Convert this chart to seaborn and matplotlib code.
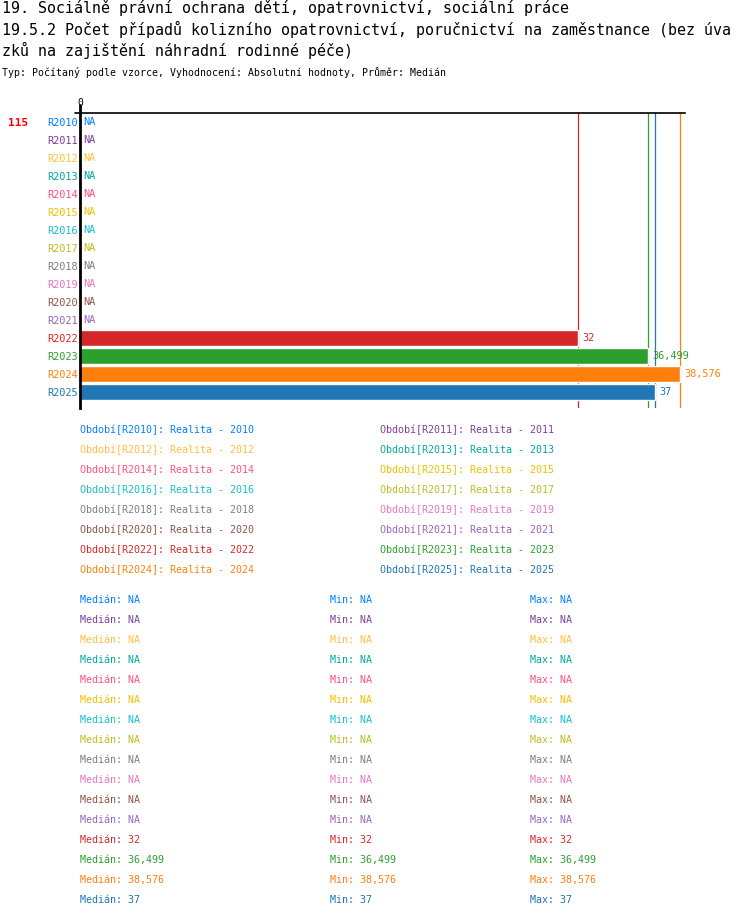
import numpy as np
import pandas as pd
import seaborn as sns
import matplotlib.pyplot as plt

W, H = 750, 918

periods = ['R2010', 'R2011', 'R2012', 'R2013', 'R2014', 'R2015', 'R2016', 'R2017',
           'R2018', 'R2019', 'R2020', 'R2021', 'R2022', 'R2023', 'R2024', 'R2025']
values = [np.nan, np.nan, np.nan, np.nan, np.nan, np.nan, np.nan, np.nan,
          np.nan, np.nan, np.nan, np.nan, 32, 36.499, 38.576, 37]
names = ['Realita - 2010', 'Realita - 2011', 'Realita - 2012', 'Realita - 2013',
         'Realita - 2014', 'Realita - 2015', 'Realita - 2016', 'Realita - 2017',
         'Realita - 2018', 'Realita - 2019', 'Realita - 2020', 'Realita - 2021',
         'Realita - 2022', 'Realita - 2023', 'Realita - 2024', 'Realita - 2025']
colors = ['#0080ff', '#7f3f98', '#ffbf3f', '#00a89d', '#ff4f86', '#f0c000',
          '#17becf', '#bcbd22', '#7f7f7f', '#e377c2', '#8c564b', '#9467bd',
          '#d62728', '#2ca02c', '#ff7f0e', '#1f77b4']

title1 = '19. Sociálně právní ochrana dětí, opatrovnictví, sociální práce'
title2 = '19.5.2 Počet případů kolizního opatrovnictví, poručnictví na zaměstnance (bez úva'
title3 = 'zků na zajištění náhradní rodinné péče)'
subtitle = 'Typ: Počítaný podle vzorce, Vyhodnocení: Absolutní hodnoty, Průměr: Medián'
row_count = '115'


def fmt(v):
    if pd.isna(v):
        return 'NA'
    s = f'{v:.3f}'.rstrip('0').rstrip('.')
    return s.replace('.', ',')


def px(x, y):
    return x / W, 1 - y / H


df = pd.DataFrame({'period': periods, 'value': values})
stats = df.groupby('period', sort=False)['value'].agg(['median', 'min', 'max'])

sns.set_style('white')
plt.rcParams['font.family'] = ['DejaVu Sans Mono']
plt.rcParams['text.color'] = 'black'

fig = plt.figure(figsize=(W / 100, H / 100), dpi=100)

# plot area in pixels: x 80..685, y 113..408
ax = fig.add_axes([80 / W, 1 - 408 / H, (685 - 80) / W, (408 - 113) / H])
sns.barplot(data=df, x='value', y='period', hue='period', palette=colors,
            orient='h', legend=False, width=0.9, saturation=1, ax=ax)
ax.set_xlim(0, 38.9)
ax.set_ylim(15 + 16 / 18, -0.5)
ax.set_xlabel('')
ax.set_ylabel('')
ax.set_xticks([])
ax.tick_params(axis='y', length=0, pad=1.5, labelsize=7.4)
for lab, c in zip(ax.get_yticklabels(), colors):
    lab.set_color(c)

for s in ['right', 'bottom']:
    ax.spines[s].set_visible(False)
ax.spines['top'].set_color('black')
ax.spines['top'].set_linewidth(1.2)
ax.spines['left'].set_color('black')
ax.spines['left'].set_linewidth(2)

# markers at bar ends
for i, v in enumerate(values):
    if not pd.isna(v):
        ax.axvline(v, color=colors[i], lw=0.9, zorder=0)
        ax.annotate(fmt(v), (v, i), xytext=(3, 0), textcoords='offset points',
                    color=colors[i], va='center', ha='left', fontsize=7.4)
    else:
        ax.annotate('NA', (0, i), xytext=(2, 0), textcoords='offset points',
                    color=colors[i], va='center', ha='left', fontsize=7.4)

# extend frame lines outside the axes
fig.add_artist(plt.Line2D([75 / W, 80 / W], [1 - 113 / H] * 2, color='black', lw=1.2))
fig.add_artist(plt.Line2D([80 / W] * 2, [1 - 105 / H, 1 - 113 / H], color='black', lw=2))
fig.text(*px(80, 103), '0', fontsize=7, ha='center', va='center')

fig.text(*px(8, 123), row_count, color='red', fontsize=8, fontweight='bold', va='center')

fig.text(*px(2, 8), title1, fontsize=10.8, va='center')
fig.text(*px(2, 29), title2, fontsize=10.8, va='center')
fig.text(*px(2, 50), title3, fontsize=10.8, va='center')
fig.text(*px(2, 73), subtitle, fontsize=7.1, va='center')

# legend block
for i, (p, n) in enumerate(zip(periods, names)):
    col = i % 2
    row = i // 2
    x = 80 if col == 0 else 380
    fig.text(*px(x, 430 + 20 * row), f'Období[{p}]: {n}', color=colors[i],
             fontsize=7.2, va='center')

# statistics block
for i, p in enumerate(periods):
    y = 600 + 20 * i
    fig.text(*px(80, y), f'Medián: {fmt(stats.loc[p, "median"])}', color=colors[i],
             fontsize=7.2, va='center')
    fig.text(*px(330, y), f'Min: {fmt(stats.loc[p, "min"])}', color=colors[i],
             fontsize=7.2, va='center')
    fig.text(*px(530, y), f'Max: {fmt(stats.loc[p, "max"])}', color=colors[i],
             fontsize=7.2, va='center')

fig.savefig('out.png', dpi=100)
